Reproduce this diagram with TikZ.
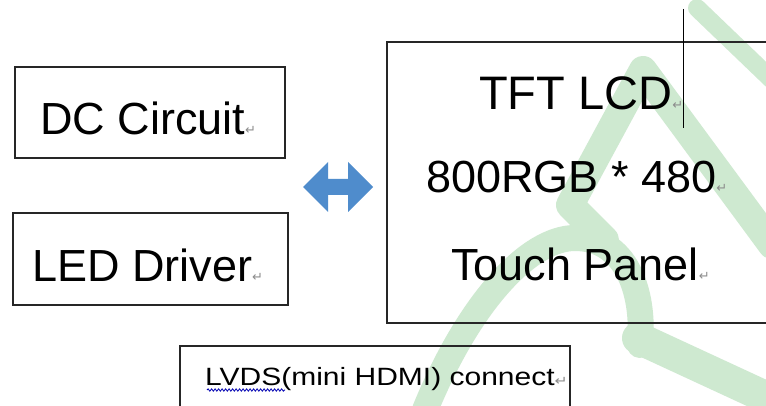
\documentclass[tikz,border=0pt]{standalone}
\usepackage{fontspec}
\setmainfont{Liberation Sans}
\newfontfamily\symfont{DejaVu Sans}
\usetikzlibrary{decorations.pathmorphing}
\definecolor{wmgreen}{RGB}{206,233,208}
\definecolor{arrowblue}{RGB}{79,140,204}
\newcommand{\ret}{{\symfont\fontsize{13pt}{13pt}\selectfont\textcolor{black!45}{↵}}}
\tikzset{
	box/.style={draw=black!85, line width=1.6pt, rectangle, inner sep=0pt},
	bigtext/.style={font=\fontsize{45pt}{54pt}\selectfont, inner sep=0pt, anchor=base west},
	smalltext/.style={font=\fontsize{25pt}{30pt}\selectfont, inner sep=0pt, anchor=base west},
	wm/.style={draw=wmgreen, line cap=round, line join=round},
}
\begin{document}
\begin{tikzpicture}[x=1pt,y=-1pt]
	\useasboundingbox (0,0) rectangle (766,406);
	\clip (0,0) rectangle (766,406);
	\fill[white] (0,0) rectangle (766,406);

	% watermark
	\begin{scope}
		\draw[wm, line width=18] (697,8) -- (772,80);
		\draw[wm, line width=28] (605,240) -- (570,205) -- (643,70) -- (772,245);
		\draw[wm, line width=26] (425,410) .. controls (470,300) and (530,238) .. (575,238) .. controls (625,238) and (645,290) .. (640,345);
		\draw[wm, line width=32] (638,338) -- (772,400);
	\end{scope}

	% boxes
	\node[box, minimum width=270, minimum height=91] (dcbox) at (150,112.5) {};
	\node[box, minimum width=275, minimum height=92] (ledbox) at (150.5,259) {};
	\node[box, minimum width=403, minimum height=281] (lcdbox) at (588.5,182.5) {};
	\node[box, line width=1.3pt, minimum width=390, minimum height=74] (lvdsbox) at (375,383) {};

	% texts
	\node[bigtext] (dc) at (40,135) {DC Circuit\ret};
	\node[bigtext] (led) at (32,282) {LED Driver\ret};
	\node[bigtext, font=\fontsize{47pt}{56pt}\selectfont] (tft) at (479,110) {TFT LCD\ret};
	\node[bigtext] (res) at (426,193) {800RGB * 480\ret};
	\node[bigtext] (touch) at (451,280) {Touch Panel\ret};
	\node[smalltext] (lvds) at (205,385) {\scalebox{1.2}[1]{LVDS(mini HDMI) connect\ret}};

	% spelling squiggle and cursor
	\draw[blue!70!black, line width=0.8pt, decorate, decoration={snake, amplitude=1.2pt, segment length=3.5pt}] (207,390) -- (285,390);
	\draw[line width=1pt] (683,9) -- (683,128);

	% double arrow
	\coordinate (arrowtip) at (303,187);
	\fill[arrowblue] (arrowtip) -- ++(25,-25) -- ++(0,17) -- ++(20,0) -- ++(0,-17) -- ++(25,25)
		-- ++(-25,25) -- ++(0,-17) -- ++(-20,0) -- ++(0,17) -- cycle;
\end{tikzpicture}
\end{document}
